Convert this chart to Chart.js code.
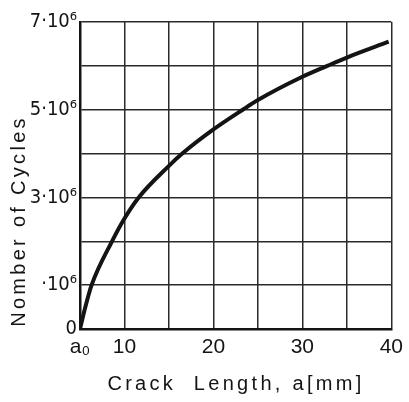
<!DOCTYPE html>
<html>
<head>
<meta charset="utf-8">
<script src="https://cdn.jsdelivr.net/npm/chart.js@4.4.1/dist/chart.umd.min.js"></script>
<style>
  html, body { margin: 0; padding: 0; background: #fff; }
  #wrap { width: 409px; height: 402px; position: relative; }
</style>
</head>
<body>
<div id="wrap"><canvas id="crack-chart"></canvas></div>
<script>
// ─── Data ────────────────────────────────────────────────────────────────────
const crackLength = [5, 5.6, 6.3, 8.6, 10, 11.6, 15, 16.5, 20, 23.3, 25, 30, 32.8, 35, 39.7];     // mm
const cycles      = [0, 0.5, 1.0, 2.0, 2.52, 3.0, 3.72, 4.0, 4.55, 5.0, 5.22, 5.75, 6.0, 6.19, 6.55]; // ×10^6

const xTickValues = [5, 10, 20, 30, 40];
const xTickLabels = ['a\u2080', '10', '20', '30', '40'];
const yTickValues = [0, 1, 3, 5, 7];
const yTickLabels = ['0', '\u00b710\u2076', '3\u00b710\u2076', '5\u00b710\u2076', '7\u00b710\u2076'];

const xTitle = 'Crack  Length, a[mm]';
const yTitle = 'Nomber of Cycles';

const FONT   = '"Liberation Sans", Arial, sans-serif';
const NARROW = '"Liberation Sans Narrow", "DejaVu Sans Condensed", "Liberation Sans", sans-serif';
const INK    = '#141414';

// ─── Axis titles drawn by hand so they sit where the reference puts them ─────
const axisTitles = {
  id: 'axisTitles',
  afterDraw(chart) {
    const ctx = chart.ctx;
    ctx.save();
    ctx.fillStyle = INK;
    ctx.font = `20px ${FONT}`;
    ctx.letterSpacing = '3.3px';
    ctx.textAlign = 'center';
    ctx.textBaseline = 'middle';
    ctx.fillText(xTitle, 236, 384);
    ctx.translate(19, 221);
    ctx.rotate(-Math.PI / 2);
    ctx.fillText(yTitle, 0, 0);
    ctx.restore();
  }
};

function labelFor(values, labels, v) {
  const i = values.findIndex(t => Math.abs(t - v) < 1e-9);
  return i >= 0 ? labels[i] : '';
}

new Chart(document.getElementById('crack-chart'), {
  type: 'line',
  data: {
    datasets: [{
      data: crackLength.map((x, i) => ({ x, y: cycles[i] })),
      borderColor: INK,
      borderWidth: 4,
      pointRadius: 0,
      cubicInterpolationMode: 'monotone',
      fill: false,
    }],
  },
  options: {
    responsive: true,
    maintainAspectRatio: false,
    animation: false,
    layout: { padding: { top: 22, right: 13, left: 0, bottom: 0 } },
    plugins: { legend: { display: false }, tooltip: { enabled: false } },
    scales: {
      x: {
        type: 'linear',
        min: 5,
        max: 40,
        afterFit: s => { s.height = 73; },
        ticks: {
          stepSize: 5,
          color: INK,
          padding: 6,
          maxRotation: 0,
          autoSkip: false,
          font: { family: FONT, size: 21 },
          callback: v => labelFor(xTickValues, xTickLabels, v),
        },
        grid: { color: '#2a2a2a', lineWidth: 1.5, drawTicks: false },
        border: { color: INK, width: 2.5 },
      },
      y: {
        min: 0,
        max: 7,
        afterFit: s => { s.width = 80; },
        ticks: {
          stepSize: 1,
          color: INK,
          padding: 3,
          autoSkip: false,
          font: { family: NARROW, size: 20 },
          callback: v => labelFor(yTickValues, yTickLabels, v),
        },
        grid: { color: '#2a2a2a', lineWidth: 1.5, drawTicks: false },
        border: { color: INK, width: 2.5 },
      },
    },
  },
  plugins: [axisTitles],
});
</script>
</body>
</html>
